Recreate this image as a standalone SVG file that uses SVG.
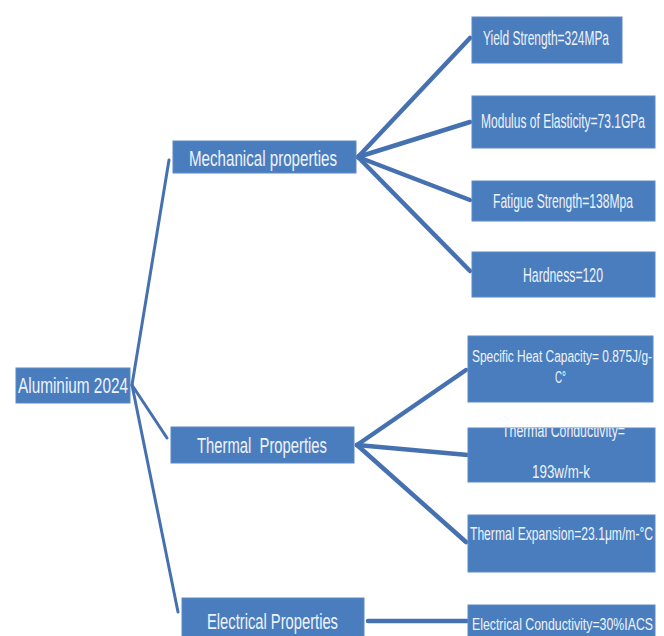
<svg xmlns="http://www.w3.org/2000/svg" width="664" height="636" viewBox="0 0 664 636">
<style>
.box{fill:#4a7dbd;stroke:#5a8ac6;stroke-width:1}
.t{font-family:"Liberation Sans",Arial,sans-serif;fill:#eef3fb;font-size:15px}
.s{font-size:13px}
.xs{font-size:12px}
.ln{stroke:#4671b0;fill:none;stroke-linecap:round}
.thin{stroke-width:3}
.thick{stroke-width:4.5}
</style>
<defs>
<clipPath id="cpTC"><rect x="468" y="428" width="187" height="54"/></clipPath>
</defs>
<rect width="664" height="636" fill="#ffffff"/>
<g id="connectors">
<line class="ln thin" x1="132" y1="385" x2="169" y2="160"/>
<line class="ln thin" x1="132" y1="385" x2="167" y2="438"/>
<line class="ln thin" x1="132" y1="385" x2="178" y2="612"/>
<line class="ln thick" x1="358" y1="157" x2="470" y2="38"/>
<line class="ln thick" x1="358" y1="157" x2="470" y2="122"/>
<line class="ln thick" x1="358" y1="157" x2="470" y2="200"/>
<line class="ln thick" x1="358" y1="157" x2="470" y2="271"/>
<line class="ln thick" x1="357" y1="445" x2="466" y2="370"/>
<line class="ln thick" x1="357" y1="445" x2="468" y2="455"/>
<line class="ln thick" x1="357" y1="445" x2="466" y2="542"/>
<line class="ln thick" x1="368" y1="621" x2="467" y2="621"/>
</g>
<g id="n-aluminium">
<rect class="box" x="16" y="368" width="114" height="35"/>
<text class="t" transform="translate(18 393) scale(1 1.5)" textLength="110" lengthAdjust="spacingAndGlyphs">Aluminium 2024</text>
</g>
<g id="n-mechanical">
<rect class="box" x="173" y="141" width="183" height="32"/>
<text class="t" transform="translate(189 166) scale(1 1.45)" textLength="148" lengthAdjust="spacingAndGlyphs">Mechanical properties</text>
</g>
<g id="n-thermal">
<rect class="box" x="171" y="427" width="183" height="36"/>
<text class="t" transform="translate(197 453) scale(1 1.45)" textLength="130" lengthAdjust="spacingAndGlyphs" xml:space="preserve">Thermal  Properties</text>
</g>
<g id="n-electrical">
<rect class="box" x="182" y="598" width="182" height="40"/>
<text class="t" transform="translate(207 629) scale(1 1.45)" textLength="131" lengthAdjust="spacingAndGlyphs">Electrical Properties</text>
</g>
<g id="n-yield">
<rect class="box" x="472" y="17" width="150" height="46"/>
<text class="t s" transform="translate(483 45) scale(1 1.5)" textLength="126" lengthAdjust="spacingAndGlyphs">Yield Strength=324MPa</text>
</g>
<g id="n-modulus">
<rect class="box" x="472" y="96" width="183" height="52"/>
<text class="t s" transform="translate(481 128) scale(1 1.5)" textLength="164" lengthAdjust="spacingAndGlyphs">Modulus of Elasticity=73.1GPa</text>
</g>
<g id="n-fatigue">
<rect class="box" x="472" y="181" width="183" height="40"/>
<text class="t s" transform="translate(493 208) scale(1 1.5)" textLength="140" lengthAdjust="spacingAndGlyphs">Fatigue Strength=138Mpa</text>
</g>
<g id="n-hardness">
<rect class="box" x="472" y="252" width="183" height="45"/>
<text class="t s" transform="translate(523 282) scale(1 1.5)" textLength="80" lengthAdjust="spacingAndGlyphs">Hardness=120</text>
</g>
<g id="n-heat">
<rect class="box" x="468" y="336" width="185" height="66"/>
<text class="t xs" transform="translate(472 362) scale(1 1.4)" textLength="180" lengthAdjust="spacingAndGlyphs">Specific Heat Capacity= 0.875J/g-</text>
<text class="t xs" transform="translate(555 383) scale(1 1.4)" textLength="11" lengthAdjust="spacingAndGlyphs">C°</text>
</g>
<g id="n-conductivity">
<rect class="box" x="468" y="428" width="187" height="54"/>
<g clip-path="url(#cpTC)">
<text class="t s" transform="translate(502 437) scale(1 1.45)" textLength="123" lengthAdjust="spacingAndGlyphs">Thermal Conductivity=</text>
<text class="t s" transform="translate(532 478) scale(1 1.45)" textLength="58" lengthAdjust="spacingAndGlyphs">193w/m-k</text>
</g>
</g>
<g id="n-expansion">
<rect class="box" x="468" y="515" width="187" height="57"/>
<text class="t xs" transform="translate(470 540) scale(1 1.5)" textLength="183" lengthAdjust="spacingAndGlyphs">Thermal Expansion=23.1μm/m-°C</text>
</g>
<g id="n-elec-cond">
<rect class="box" x="468" y="605" width="187" height="35"/>
<text class="t xs" transform="translate(472 630) scale(1 1.45)" textLength="181" lengthAdjust="spacingAndGlyphs">Electrical Conductivity=30%IACS</text>
</g>
</svg>
